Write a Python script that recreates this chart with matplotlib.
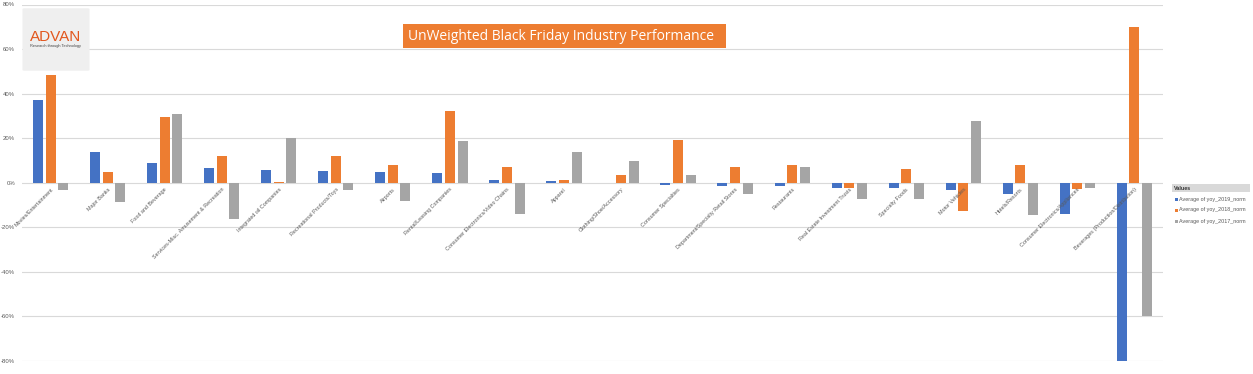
import matplotlib
matplotlib.use("Agg")
import matplotlib.pyplot as plt
import matplotlib.patches as mpatches
import numpy as np

plt.rcParams['font.family'] = ['Liberation Sans', 'DejaVu Sans']

categories = [
    "Movies/Entertainment", "Major Banks", "Food and Beverage",
    "Services-Misc. Amusement & Recreation", "Integrated oil Companies",
    "Recreational Products/Toys", "Airports", "Rental/Leasing Companies",
    "Consumer Electronics/Video Chains", "Apparel", "Clothing/Shoe/Accessory",
    "Consumer Specialties", "Department/Specialty Retail Stores", "Restaurants",
    "Real Estate Investment Trusts", "Specialty Foods", "Motor Vehicles",
    "Hotels/Resorts", "Consumer Electronics/Appliances",
    "Beverages (Production/Distribution)",
]
yoy_2019 = [37.2, 13.9, 8.8, 6.6, 5.8, 5.4, 4.8, 4.2, 1.3, 0.9, 0.0, -0.9,
            -1.6, -1.6, -2.4, -2.5, -3.3, -5.2, -14.2, -81.0]
yoy_2018 = [48.4, 4.8, 29.4, 11.9, 0.4, 11.8, 7.8, 32.4, 7.2, 1.3, 3.6, 19.1,
            7.0, 7.9, -2.2, 6.3, -12.8, 7.8, -2.8, 70.0]
yoy_2017 = [-3.4, -8.8, 30.7, -16.3, 19.9, -3.3, -8.4, 18.7, -14.2, 13.9, 9.7,
            3.4, -5.1, 6.9, -7.3, -7.3, 27.6, -14.5, -2.5, -59.9]
series_names = ["Average of yoy_2019_norm", "Average of yoy_2018_norm",
                "Average of yoy_2017_norm"]
colors = ["#4472C4", "#ED7D31", "#A5A5A5"]
yticks = [-80, -60, -40, -20, 0, 20, 40, 60, 80]
title = "UnWeighted Black Friday Industry Performance"

W, H = 1253, 374
fig = plt.figure(figsize=(W / 100, H / 100), dpi=100)
fig.patch.set_facecolor("white")

def fx(px):
    return px / W

def fy(py):
    return 1 - py / H

ax = fig.add_axes([fx(22), fy(361), fx(1163) - fx(22), fy(4.5) - fy(361)])
ax.set_facecolor("none")
x = np.arange(len(categories))
bw = 0.175
step = 0.222
for k, (vals, c) in enumerate(zip([yoy_2019, yoy_2018, yoy_2017], colors)):
    ax.bar(x + (k - 1) * step, vals, width=bw, color=c, zorder=3)

ax.set_xlim(-0.5, len(categories) - 0.5)
ax.set_ylim(-80, 80)
ax.set_yticks(yticks)
ax.set_yticklabels([f"{v}%" for v in yticks], fontsize=4.3, color="#595959")
ax.tick_params(axis="y", length=0, pad=5)
ax.set_xticks([])
ax.grid(axis="y", color="#D9D9D9", lw=0.8, zorder=0)
for s in ax.spines.values():
    s.set_visible(False)

for i, name in enumerate(categories):
    ax.annotate(name, xy=(i, 0), xytext=(0, -3), textcoords="offset points",
                ha="right", va="top", rotation=45, rotation_mode="anchor",
                fontsize=3.9, color="#595959", zorder=4)

# Title box
fig.patches.append(mpatches.Rectangle((fx(403), fy(48)), fx(726) - fx(403),
                                      fy(24) - fy(48), transform=fig.transFigure,
                                      facecolor="#ED7D31", edgecolor="none",
                                      zorder=5))
fig.text(fx(408), fy(36), title, ha="left", va="center", color="white",
         fontsize=10, family=["Open Sans", "DejaVu Sans"], zorder=6)

# Logo box
fig.patches.append(mpatches.FancyBboxPatch((fx(25), fy(70)), fx(87) - fx(25),
                                           fy(9) - fy(70),
                                           boxstyle="round,pad=0.002",
                                           transform=fig.transFigure,
                                           facecolor="#EFEFEF", edgecolor="none",
                                           zorder=5))
fig.text(fx(56), fy(37), "ADVAN", ha="center", va="center", color="#E2571E",
         fontsize=11, zorder=6)
fig.text(fx(56), fy(45.5), "Research through Technology", ha="center",
         va="center", color="#444444", fontsize=2.8, zorder=6)

# Legend
fig.patches.append(mpatches.Rectangle((fx(1172), fy(192)), fx(1250) - fx(1172),
                                      fy(184) - fy(192), transform=fig.transFigure,
                                      facecolor="#D9D9D9", edgecolor="none"))
fig.text(fx(1174), fy(188), "Values", ha="left", va="center", fontsize=3.9,
         color="#333333", weight="bold")
for k, (nm, c) in enumerate(zip(series_names, colors)):
    yy = 199 + k * 11
    fig.patches.append(mpatches.Rectangle((fx(1174.5), fy(yy + 1.5)), fx(3), fy(0) - fy(3),
                                          transform=fig.transFigure,
                                          facecolor=c, edgecolor="none"))
    fig.text(fx(1179), fy(yy), nm, ha="left", va="center", fontsize=3.9,
             color="#595959")

fig.savefig("out.png", dpi=100)
